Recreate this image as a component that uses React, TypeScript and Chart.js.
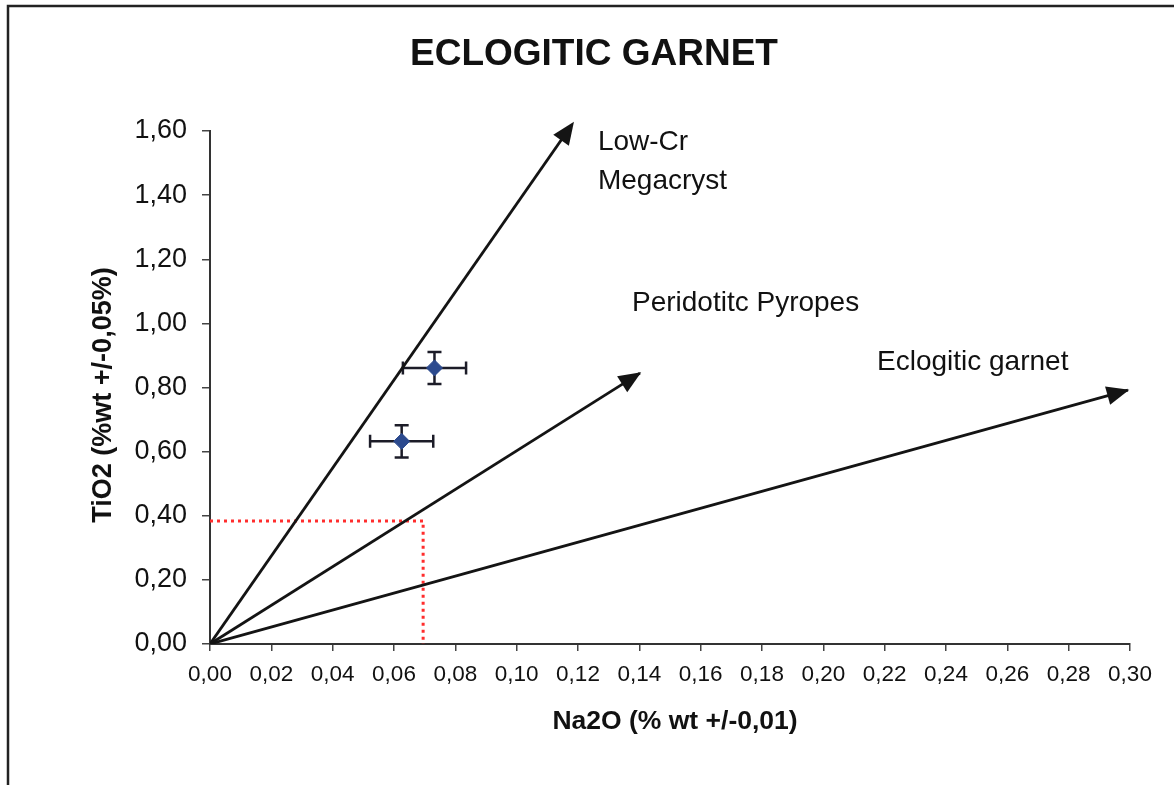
import React, { useEffect, useRef } from 'react';
import { Chart, registerables } from 'chart.js';

Chart.register(...registerables);

const FONT = '"Liberation Sans", Arial, Helvetica, sans-serif';

// Measured samples (Na2O, TiO2) with analytical errors
const sampleNa2O = [0.0732, 0.0625];
const sampleTiO2 = [0.861, 0.632];
const errNa2O = [0.0103, 0.0103];
const errTiO2 = [0.05, 0.05];

// Trend vectors (from origin to arrow tip)
const trendNames = ['Low-Cr Megacryst', 'Peridotitc Pyropes', 'Eclogitic garnet'];
const trendEndNa2O = [0.1184, 0.1402, 0.2993];
const trendEndTiO2 = [1.625, 0.845, 0.792];

// Red dotted guide
const guideNa2O = [0, 0.0695, 0.0695];
const guideTiO2 = [0.384, 0.384, 0];

// Text annotations
const labelTexts = ['Low-Cr', 'Megacryst', 'Peridotitc Pyropes', 'Eclogitic garnet'];
const labelNa2O = [0.1265, 0.1265, 0.1376, 0.2175];
const labelTiO2 = [1.564, 1.444, 1.062, 0.88];

const chartTitle = 'ECLOGITIC GARNET';
const xTitle = 'Na2O (% wt +/-0,01)';
const yTitle = 'TiO2 (%wt +/-0,05%)';

const fmt = (v: number) => Number(v).toFixed(2).replace('.', ',');

export default function App() {
  const ref = useRef<HTMLCanvasElement>(null);

  useEffect(() => {
    const canvas = ref.current!;

    const overlay = {
      id: 'overlay',
      beforeDatasetsDraw(chart: any) {
        const { ctx, scales } = chart;
        const xs = scales.x;
        const ys = scales.y;
        ctx.save();
        ctx.strokeStyle = '#1c1c28';
        ctx.lineWidth = 2.5;
        for (let i = 0; i < sampleNa2O.length; i++) {
          const cx = xs.getPixelForValue(sampleNa2O[i]);
          const cy = ys.getPixelForValue(sampleTiO2[i]);
          const x0 = xs.getPixelForValue(sampleNa2O[i] - errNa2O[i]);
          const x1 = xs.getPixelForValue(sampleNa2O[i] + errNa2O[i]);
          const y0 = ys.getPixelForValue(sampleTiO2[i] - errTiO2[i]);
          const y1 = ys.getPixelForValue(sampleTiO2[i] + errTiO2[i]);
          ctx.beginPath();
          ctx.moveTo(x0, cy); ctx.lineTo(x1, cy);
          ctx.moveTo(x0, cy - 6.5); ctx.lineTo(x0, cy + 6.5);
          ctx.moveTo(x1, cy - 6.5); ctx.lineTo(x1, cy + 6.5);
          ctx.moveTo(cx, y0); ctx.lineTo(cx, y1);
          ctx.moveTo(cx - 7, y0); ctx.lineTo(cx + 7, y0);
          ctx.moveTo(cx - 7, y1); ctx.lineTo(cx + 7, y1);
          ctx.stroke();
        }
        ctx.restore();
      },
      afterDatasetsDraw(chart: any) {
        const { ctx, scales } = chart;
        const xs = scales.x;
        const ys = scales.y;
        ctx.save();
        ctx.fillStyle = '#141414';
        for (let i = 0; i < trendEndNa2O.length; i++) {
          const px0 = xs.getPixelForValue(0);
          const py0 = ys.getPixelForValue(0);
          const px1 = xs.getPixelForValue(trendEndNa2O[i]);
          const py1 = ys.getPixelForValue(trendEndTiO2[i]);
          const a = Math.atan2(py1 - py0, px1 - px0);
          const L = 21;
          const W = 9.5;
          const bx = px1 - L * Math.cos(a);
          const by = py1 - L * Math.sin(a);
          ctx.beginPath();
          ctx.moveTo(px1 + 1.5 * Math.cos(a), py1 + 1.5 * Math.sin(a));
          ctx.lineTo(bx - W * Math.sin(a), by + W * Math.cos(a));
          ctx.lineTo(bx + W * Math.sin(a), by - W * Math.cos(a));
          ctx.closePath();
          ctx.fill();
        }
        ctx.fillStyle = '#111';
        ctx.font = `28px ${FONT}`;
        ctx.textAlign = 'left';
        ctx.textBaseline = 'middle';
        for (let i = 0; i < labelTexts.length; i++) {
          ctx.fillText(labelTexts[i], xs.getPixelForValue(labelNa2O[i]), ys.getPixelForValue(labelTiO2[i]));
        }
        ctx.restore();
      },
      afterDraw(chart: any) {
        const { ctx } = chart;
        ctx.save();
        ctx.fillStyle = '#111';
        ctx.textAlign = 'center';
        ctx.textBaseline = 'middle';
        ctx.font = `bold 37px ${FONT}`;
        ctx.fillText(chartTitle, 594, 55);
        ctx.font = `bold 26.5px ${FONT}`;
        ctx.fillText(xTitle, 675, 722);
        ctx.font = `bold 27px ${FONT}`;
        ctx.translate(104, 395);
        ctx.rotate(-Math.PI / 2);
        ctx.fillText(yTitle, 0, 0);
        ctx.restore();
        ctx.save();
        ctx.strokeStyle = '#222';
        ctx.lineWidth = 2.5;
        ctx.beginPath();
        ctx.moveTo(8, 785);
        ctx.lineTo(8, 6);
        ctx.lineTo(1174, 6);
        ctx.stroke();
        ctx.restore();
      },
    };

    const datasets: any[] = [
      {
        type: 'scatter',
        label: 'Samples',
        data: sampleNa2O.map((x, i) => ({ x, y: sampleTiO2[i] })),
        pointStyle: 'rectRot',
        pointRadius: 8,
        pointBackgroundColor: '#2c4a8e',
        pointBorderColor: '#2c4a8e',
        order: 0,
      },
      ...trendNames.map((name, i) => ({
        type: 'line',
        label: name,
        data: [{ x: 0, y: 0 }, { x: trendEndNa2O[i], y: trendEndTiO2[i] }],
        borderColor: '#141414',
        borderWidth: 2.8,
        pointRadius: 0,
        fill: false,
        order: 2,
      })),
      {
        type: 'line',
        label: 'Guide',
        data: guideNa2O.map((x, i) => ({ x, y: guideTiO2[i] })),
        borderColor: '#ff2d2d',
        borderWidth: 3,
        borderDash: [3, 4],
        pointRadius: 0,
        fill: false,
        order: 3,
      },
    ];

    const chart = new Chart(canvas, {
      type: 'scatter',
      data: { datasets },
      options: {
        animation: false,
        responsive: false,
        devicePixelRatio: 1,
        layout: { padding: { top: 131, right: 44, left: 0, bottom: 0 } },
        plugins: { legend: { display: false }, tooltip: { enabled: false }, title: { display: false } },
        scales: {
          x: {
            type: 'linear',
            min: 0,
            max: 0.3,
            ticks: {
              stepSize: 0.02,
              autoSkip: false,
              maxRotation: 0,
              minRotation: 0,
              padding: 10,
              color: '#111',
              font: { size: 22.5, family: FONT },
              callback: (v: any) => fmt(v),
            },
            grid: { drawOnChartArea: false, drawTicks: true, tickLength: 7, color: '#444', lineWidth: 1.5 },
            border: { display: true, color: '#333', width: 2 },
            afterFit: (s: any) => { s.height = 141; },
          },
          y: {
            type: 'linear',
            min: 0,
            max: 1.6,
            ticks: {
              stepSize: 0.2,
              padding: 15,
              color: '#111',
              font: { size: 27, family: FONT },
              callback: (v: any) => fmt(v),
            },
            grid: { drawOnChartArea: false, drawTicks: true, tickLength: 8, color: '#444', lineWidth: 1.5 },
            border: { display: true, color: '#333', width: 2 },
            afterFit: (s: any) => { s.width = 210; },
          },
        },
      },
      plugins: [overlay],
    } as any);

    return () => chart.destroy();
  }, []);

  return (
    <div style={{ position: 'absolute', left: 0, top: 0, width: 1174, height: 785, background: '#fff' }}>
      <canvas ref={ref} width={1174} height={785} style={{ width: 1174, height: 785, display: 'block' }} />
    </div>
  );
}
